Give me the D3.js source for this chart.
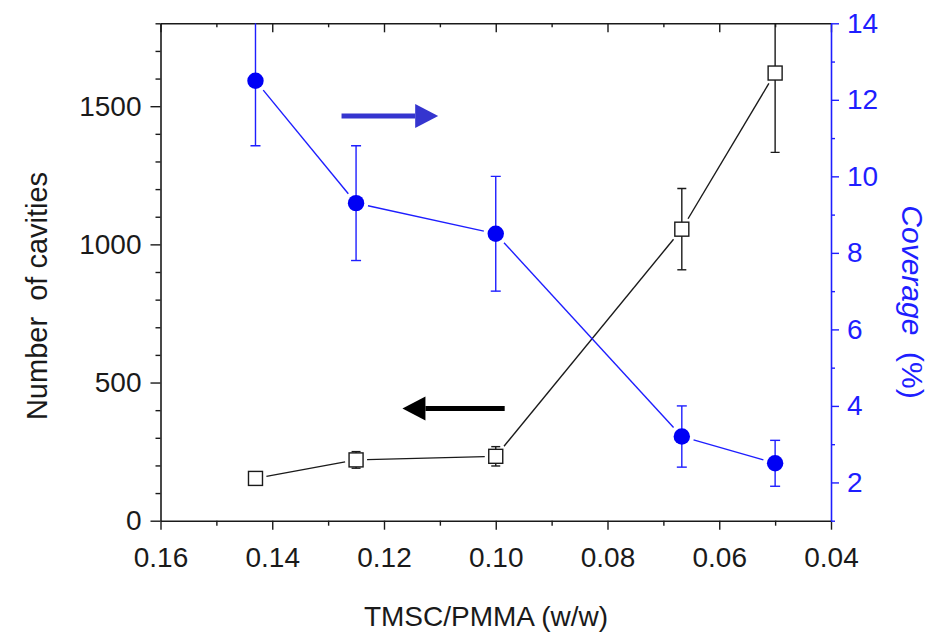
<!DOCTYPE html>
<html>
<head>
<meta charset="utf-8">
<script src="https://cdn.jsdelivr.net/npm/d3@7"></script>
<style>
  body { margin: 0; background: #fff; }
  svg { font-family: "Liberation Sans", Arial, sans-serif; }
</style>
</head>
<body>
<script>
// TMSC/PMMA ratio (w/w)
const ratio = [0.143, 0.125, 0.100, 0.0667, 0.050];
// Number of cavities (left axis) with error
const cavities = [153, 220, 233, 1055, 1620];
const cavitiesErr = [22, 30, 35, 147, 287];
// Coverage % (right axis) with error
const coverage = [12.5, 9.3, 8.5, 3.2, 2.5];
const coverageErr = [1.7, 1.5, 1.5, 0.8, 0.6];

// tick values
const xTicks = [0.16, 0.14, 0.12, 0.10, 0.08, 0.06, 0.04];
const xMinor = [0.15, 0.13, 0.11, 0.09, 0.07, 0.05];
const yLeftTicks = [0, 500, 1000, 1500];
const yLeftMinor = [100, 200, 300, 400, 600, 700, 800, 900, 1100, 1200, 1300, 1400, 1600, 1700, 1800];
const yRightTicks = [2, 4, 6, 8, 10, 12, 14];
const yRightMinor = [1, 3, 5, 7, 9, 11, 13];

// direction arrows, in data units: [x from, x to, y]
const arrowRight = [0.1276, 0.1103, 11.58];   // points to right axis
const arrowLeft = [0.0984, 0.1167, 406];      // points to left axis

const W = 942, H = 635;
const margin = { top: 23.3, right: 111, bottom: 114.3, left: 160.5 };
const width = W - margin.left - margin.right;
const height = H - margin.top - margin.bottom;

const BLUE = "#1e1eff";
const BLACK = "#1a1a1a";

const svg = d3.select("body").append("svg")
    .attr("width", W)
    .attr("height", H);

const g = svg.append("g")
    .attr("transform", `translate(${margin.left},${margin.top})`);

const x = d3.scaleLinear().domain([0.16, 0.04]).range([0, width]);
const yL = d3.scaleLinear().domain([0, 1800]).range([height, 0]);
const yR = d3.scaleLinear().domain([1, 14]).range([height, 0]);

g.append("clipPath").attr("id", "plot")
    .append("rect").attr("width", width).attr("height", height);

// axes
function styleAxis(sel, color) {
    sel.select(".domain").attr("stroke", color).attr("stroke-width", 1.6);
    sel.selectAll(".tick line").attr("stroke", color).attr("stroke-width", 1.4);
    sel.selectAll(".tick text").attr("fill", color).attr("font-size", 28);
}

const axBottom = g.append("g").attr("transform", `translate(0,${height})`)
    .call(d3.axisBottom(x).tickValues(xTicks).tickFormat(d3.format(".2f")).tickSize(9).tickPadding(17).tickSizeOuter(0));
styleAxis(axBottom, BLACK);
const axBottomMinor = g.append("g").attr("transform", `translate(0,${height})`)
    .call(d3.axisBottom(x).tickValues(xMinor).tickFormat("").tickSize(5));
styleAxis(axBottomMinor, BLACK);
axBottomMinor.select(".domain").remove();

const axTop = g.append("g")
    .call(d3.axisBottom(x).tickValues(xTicks).tickFormat("").tickSize(9).tickSizeOuter(0));
styleAxis(axTop, BLACK);
const axTopMinor = g.append("g")
    .call(d3.axisBottom(x).tickValues(xMinor).tickFormat("").tickSize(4));
styleAxis(axTopMinor, BLACK);
axTopMinor.select(".domain").remove();

const axLeft = g.append("g")
    .call(d3.axisLeft(yL).tickValues(yLeftTicks).tickFormat(d3.format("d")).tickSize(10).tickPadding(9).tickSizeOuter(0));
styleAxis(axLeft, BLACK);
const axLeftMinor = g.append("g")
    .call(d3.axisLeft(yL).tickValues(yLeftMinor).tickFormat("").tickSize(5));
styleAxis(axLeftMinor, BLACK);
axLeftMinor.select(".domain").remove();

const axRight = g.append("g").attr("transform", `translate(${width},0)`)
    .call(d3.axisRight(yR).tickValues(yRightTicks).tickFormat(d3.format("d")).tickSize(8).tickPadding(8).tickSizeOuter(0));
styleAxis(axRight, BLUE);
const axRightMinor = g.append("g").attr("transform", `translate(${width},0)`)
    .call(d3.axisRight(yR).tickValues(yRightMinor).tickFormat("").tickSize(4));
styleAxis(axRightMinor, BLUE);
axRightMinor.select(".domain").remove();

// axis titles
svg.append("text")
    .attr("transform", "translate(47,296) rotate(-90)")
    .attr("text-anchor", "middle")
    .attr("font-size", 29)
    .attr("fill", BLACK)
    .text("Number\u00a0 of cavities");

svg.append("text")
    .attr("x", 486).attr("y", 626)
    .attr("text-anchor", "middle")
    .attr("font-size", 28)
    .attr("fill", BLACK)
    .text("TMSC/PMMA (w/w)");

const rt = svg.append("text")
    .attr("transform", "translate(902,302) rotate(90)")
    .attr("text-anchor", "middle")
    .attr("font-size", 30)
    .attr("fill", BLUE);
rt.append("tspan").attr("font-style", "italic").text("Coverage");
rt.append("tspan").text("\u00a0\u00a0(%)");

// data series
const pts = ratio.map((r, i) => ({
    x: r, n: cavities[i], ne: cavitiesErr[i], c: coverage[i], ce: coverageErr[i]
}));

const plot = g.append("g").attr("clip-path", "url(#plot)");

// segments between markers, with a small gap at each marker
function segments(P, shrinkFn) {
    const out = [];
    for (let i = 0; i < P.length - 1; i++) {
        const [x1, y1] = P[i], [x2, y2] = P[i + 1];
        const dx = x2 - x1, dy = y2 - y1, len = Math.hypot(dx, dy);
        const ux = dx / len, uy = dy / len;
        const s = shrinkFn(ux, uy);
        out.push([x1 + ux * s, y1 + uy * s, x2 - ux * s, y2 - uy * s]);
    }
    return out;
}

const SQ = 14, R = 8.2;

// black: cavities
const blackP = pts.map(d => [x(d.x), yL(d.n)]);
plot.selectAll(".segB").data(segments(blackP, (ux, uy) =>
        Math.min((SQ / 2) / Math.max(Math.abs(ux), 1e-6), (SQ / 2) / Math.max(Math.abs(uy), 1e-6)) + 4))
    .join("line")
    .attr("x1", d => d[0]).attr("y1", d => d[1]).attr("x2", d => d[2]).attr("y2", d => d[3])
    .attr("stroke", BLACK).attr("stroke-width", 1.4);

const errB = plot.selectAll(".errB").data(pts).join("g");
errB.append("line")
    .attr("x1", d => x(d.x)).attr("x2", d => x(d.x))
    .attr("y1", d => yL(d.n + d.ne)).attr("y2", d => yL(d.n - d.ne))
    .attr("stroke", BLACK).attr("stroke-width", 1.4);
errB.selectAll(".cap").data(d => [d.n + d.ne, d.n - d.ne].map(v => ({ x: d.x, v })))
    .join("line")
    .attr("x1", d => x(d.x) - 4.5).attr("x2", d => x(d.x) + 4.5)
    .attr("y1", d => yL(d.v)).attr("y2", d => yL(d.v))
    .attr("stroke", BLACK).attr("stroke-width", 1.4);

plot.selectAll(".sq").data(pts).join("rect")
    .attr("x", d => x(d.x) - SQ / 2).attr("y", d => yL(d.n) - SQ / 2)
    .attr("width", SQ).attr("height", SQ)
    .attr("fill", "#fff").attr("stroke", BLACK).attr("stroke-width", 1.4);

// blue: coverage
const blueP = pts.map(d => [x(d.x), yR(d.c)]);
plot.selectAll(".segC").data(segments(blueP, () => R + 4))
    .join("line")
    .attr("x1", d => d[0]).attr("y1", d => d[1]).attr("x2", d => d[2]).attr("y2", d => d[3])
    .attr("stroke", BLUE).attr("stroke-width", 1.4);

const errC = plot.selectAll(".errC").data(pts).join("g");
errC.append("line")
    .attr("x1", d => x(d.x)).attr("x2", d => x(d.x))
    .attr("y1", d => yR(d.c + d.ce)).attr("y2", d => yR(d.c - d.ce))
    .attr("stroke", BLUE).attr("stroke-width", 1.4);
errC.selectAll(".cap").data(d => [d.c + d.ce, d.c - d.ce].map(v => ({ x: d.x, v })))
    .join("line")
    .attr("x1", d => x(d.x) - 5).attr("x2", d => x(d.x) + 5)
    .attr("y1", d => yR(d.v)).attr("y2", d => yR(d.v))
    .attr("stroke", BLUE).attr("stroke-width", 1.4);

plot.selectAll(".dot").data(pts).join("circle")
    .attr("cx", d => x(d.x)).attr("cy", d => yR(d.c)).attr("r", R)
    .attr("fill", "#0000f5");

// arrows
function arrow(x1, x2, y, color) {
    const dir = Math.sign(x2 - x1);
    const head = 23, half = 12;
    g.append("line")
        .attr("x1", x1).attr("x2", x2 - dir * head).attr("y1", y).attr("y2", y)
        .attr("stroke", color).attr("stroke-width", 5);
    g.append("path")
        .attr("d", `M${x2},${y} L${x2 - dir * head},${y - half} L${x2 - dir * head},${y + half} Z`)
        .attr("fill", color);
}
arrow(x(arrowRight[0]), x(arrowRight[1]), yR(arrowRight[2]), "#3535cf");
arrow(x(arrowLeft[0]), x(arrowLeft[1]), yL(arrowLeft[2]), "#000");
</script>
</body>
</html>
